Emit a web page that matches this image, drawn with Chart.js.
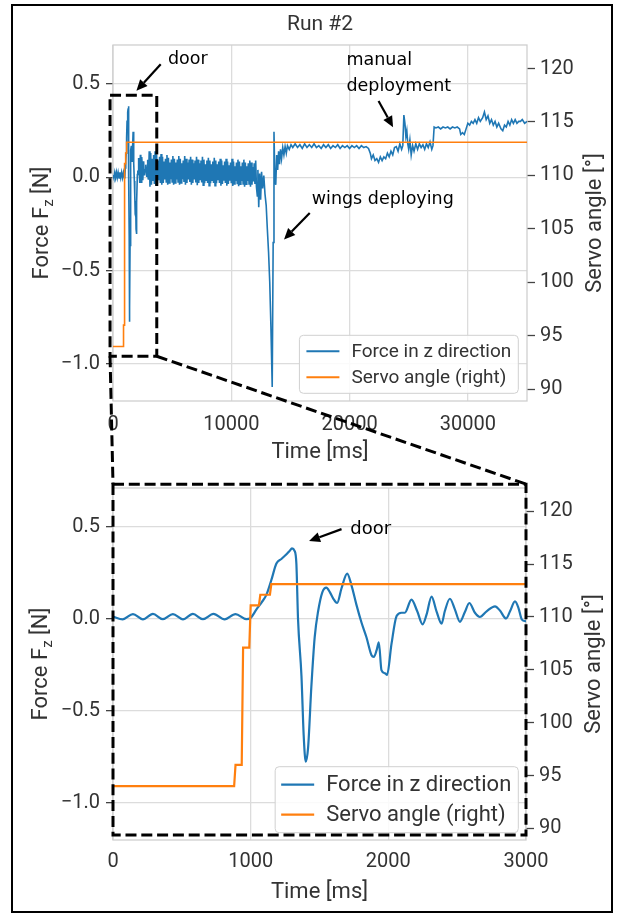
<!DOCTYPE html>
<html><head><meta charset="utf-8">
<script src="https://cdn.jsdelivr.net/npm/chart.js@4.4.1/dist/chart.umd.min.js"></script>
<style>
html,body{margin:0;padding:0;background:#fff;}
#fig{position:relative;width:617px;height:916px;background:#fff;overflow:hidden;}
#frame{position:absolute;left:11px;top:4px;width:598px;height:905px;border:2px solid #000;}
canvas{position:absolute;left:0;}
</style></head><body>
<div id="fig">
<div id="frame"></div>
<canvas id="top" width="617" height="470" style="top:0"></canvas>
<canvas id="zoom" width="617" height="446" style="top:470px"></canvas>
<canvas id="over" width="617" height="916" style="top:0"></canvas>
</div>
<script>
// ---------------- data ----------------
const titleText = 'Run #2';
const seriesNames = ['Force in z direction', 'Servo angle (right)'];

// detail of the door event (0–3000 ms), force in N
const zoomTime = [0,70,145,217,290,362,435,508,580,653,730,811,890,969,1000,1041,1080,1114,1150,1187,1223,1260,1284,1300,1318,1332,1344,1369,1385,1400,1417,1441,1465,1490,1521,1550,1575,1600,1628,1660,1701,1732,1768,1805,1841,1878,1895,1915,1931,1950,1975,1991,2023,2060,2096,2120,2168,2210,2249,2278,2314,2350,2387,2410,2447,2484,2520,2556,2588,2629,2665,2714,2775,2811,2855,2884,2920,2945,2969,2993,3000];
const zoomForce = [0.012,-0.003,0.026,-0.003,0.027,-0.002,0.026,-0.003,0.027,-0.002,0.027,-0.003,0.026,-0.002,0.005,0.05,0.09,0.13,0.21,0.30,0.325,0.35,0.37,0.382,0.37,0.30,0.0,-0.31,-0.63,-0.775,-0.70,-0.366,-0.10,0.041,0.145,0.169,0.145,0.11,0.086,0.166,0.245,0.183,0.077,-0.02,-0.10,-0.198,-0.207,-0.17,-0.127,-0.278,-0.295,-0.304,-0.136,0.015,0.033,0.033,0.104,0.041,-0.03,0.024,0.121,0.041,-0.026,0.041,0.109,0.05,-0.016,0.037,0.086,0.033,0.01,0.041,0.068,0.045,0.002,0.041,0.095,0.06,-0.003,-0.012,-0.01];

// vibrating phase after the door opened (3000–12125 ms): upper / lower swing per 125 ms bin
const bandTime = [3000,3125,3250,3375,3500,3625,3750,3875,4000,4125,4250,4375,4500,4625,4750,4875,5000,5125,5250,5375,5500,5625,5750,5875,6000,6125,6250,6375,6500,6625,6750,6875,7000,7125,7250,7375,7500,7625,7750,7875,8000,8125,8250,8375,8500,8625,8750,8875,9000,9125,9250,9375,9500,9625,9750,9875,10000,10125,10250,10375,10500,10625,10750,10875,11000,11125,11250,11375,11500,11625,11750,11875,12000];
const bandHi = [0.14,0.13,0.10,0.12,0.14,0.12,0.09,0.11,0.125,0.11,0.085,0.10,0.12,0.105,0.08,0.095,0.115,0.10,0.08,0.095,0.115,0.10,0.075,0.09,0.115,0.10,0.08,0.095,0.11,0.095,0.075,0.09,0.11,0.095,0.075,0.09,0.11,0.095,0.07,0.09,0.105,0.09,0.07,0.085,0.105,0.09,0.07,0.085,0.10,0.09,0.065,0.085,0.10,0.085,0.065,0.08,0.10,0.085,0.06,0.08,0.095,0.085,0.06,0.08,0.095,0.08,0.06,0.075,0.09,0.08,0.055,0.075,0.09];
const bandLo = [-0.05,-0.04,-0.02,-0.035,-0.045,-0.035,-0.015,-0.03,-0.04,-0.03,-0.012,-0.025,-0.04,-0.03,-0.01,-0.025,-0.04,-0.03,-0.012,-0.025,-0.04,-0.03,-0.01,-0.025,-0.04,-0.03,-0.012,-0.025,-0.04,-0.03,-0.012,-0.028,-0.042,-0.03,-0.012,-0.028,-0.042,-0.032,-0.015,-0.03,-0.045,-0.032,-0.015,-0.03,-0.045,-0.032,-0.015,-0.03,-0.045,-0.035,-0.018,-0.03,-0.045,-0.035,-0.018,-0.032,-0.047,-0.035,-0.02,-0.033,-0.048,-0.037,-0.02,-0.035,-0.05,-0.037,-0.02,-0.035,-0.05,-0.04,-0.022,-0.036,-0.05];

// rest of the run (12200–35000 ms), force in N
const runTime = [12200,12250,12320,12400,12480,12560,12650,12750,12850,12950,13050,13150,13250,13350,13460,13540,13610,13680,13760,13840,13920,14000,14080,14160,14250,14350,14450,14550,14650,14750,14900,15050,
15200,15400,15600,15800,16000,16200,16400,16600,16800,17000,17200,17400,17600,17800,18000,18200,18400,18600,18800,19000,19200,19400,19600,19800,20000,20200,20400,20600,20800,21000,21200,21400,21600,
21750,21850,22000,22150,22300,22450,22600,22750,22900,23050,23200,23350,23500,23650,23800,23950,24100,24250,24400,24500,
24590,24680,24760,24840,24920,25000,25100,25210,25330,25450,25600,25750,25900,26050,26200,26350,26500,26650,26800,26950,27050,
27150,27300,27500,27700,27900,28100,28300,28500,28700,28900,29100,29300,29400,29550,29700,29850,30000,30150,30300,30450,30600,30750,30900,31050,31250,31400,31550,31700,31850,32000,32150,32300,32450,32600,32800,32950,33100,33250,33400,33550,33700,33850,34000,34150,34300,34450,34600,34800,35000];
const runForce = [-0.10,0.04,-0.16,0.02,-0.12,0.03,-0.06,0.01,-0.09,-0.15,-0.28,-0.40,-0.56,-0.80,-1.125,-0.35,0.245,0.0,-0.04,0.12,0.04,0.14,0.07,0.15,0.10,0.16,0.12,0.165,0.13,0.17,0.15,0.175,
0.16,0.18,0.16,0.175,0.155,0.18,0.16,0.175,0.16,0.18,0.16,0.17,0.155,0.175,0.16,0.175,0.155,0.17,0.16,0.175,0.155,0.17,0.16,0.17,0.155,0.17,0.16,0.17,0.155,0.17,0.16,0.165,0.155,
0.13,0.10,0.12,0.09,0.10,0.08,0.11,0.09,0.11,0.10,0.13,0.11,0.14,0.12,0.16,0.165,0.14,0.18,0.15,0.17,
0.334,0.29,0.22,0.25,0.18,0.15,0.20,0.12,0.17,0.14,0.18,0.15,0.18,0.16,0.175,0.15,0.18,0.16,0.19,0.15,0.17,
0.27,0.265,0.27,0.26,0.27,0.265,0.27,0.26,0.27,0.265,0.27,0.26,0.23,0.24,0.23,0.26,0.29,0.28,0.30,0.29,0.31,0.29,0.32,0.30,0.32,0.35,0.31,0.33,0.29,0.31,0.28,0.30,0.27,0.29,0.26,0.25,0.28,0.27,0.30,0.28,0.31,0.29,0.31,0.29,0.30,0.30,0.31,0.29,0.30];

// servo angle (right axis), degrees
const servoTime  = [0,880,890,935,945,990,1000,1060,1070,1140,1150,35000];
const servoAngle = [94.0,94.0,96.0,96.0,107.1,107.1,111.1,111.1,112.1,112.1,113.1,113.1];

// ticks
const runTimeTicks  = [0,10000,20000,30000];
const zoomTimeTicks = [0,1000,2000,3000];
const forceTicks = [-1.0,-0.5,0.0,0.5];
const forceTickLabels = ['\u22121.0','\u22120.5','0.0','0.5'];
const servoTicks = [90,95,100,105,110,115,120];
const forceRange = [-1.2, 0.71];
const servoRange = [88.9, 122.2];

// annotations (data coordinates of each panel)
const topZoomBox  = {t:[-250,3700], f:[-0.96,0.44]};
const zoomFrameBox = {t:[0,3000], f:[-1.173,0.731]};

// ---------------- drawing ----------------
const BLUE = '#1f77b4', ORANGE = '#ff7f0e', TXT = '#333333', GRID = '#dcdcdc';
const FONT = 'Roboto';
const W = 617;

// full-run force series: door detail, vibrating band (upper/lower swing per bin), rest of run
const bandPts = [];
bandTime.forEach((t, i) => { bandPts.push({x: t + 62.5, y: bandHi[i]}); bandPts.push({x: t + 125, y: bandLo[i]}); });
const fullForcePts = zoomTime.map((t, i) => ({x: t, y: zoomForce[i]}))
  .concat(bandPts)
  .concat(runTime.map((t, i) => ({x: t, y: runForce[i]})));
const zoomForcePts = zoomTime.map((t, i) => ({x: t, y: zoomForce[i]}));

function drawRotated(ctx, parts, cx, cy) {
  let tw = 0;
  parts.forEach(p => { ctx.font = `${p.size}px ${FONT}`; p.w = ctx.measureText(p.text).width; tw += p.w; });
  ctx.save();
  ctx.translate(cx, cy);
  ctx.rotate(-Math.PI / 2);
  ctx.fillStyle = TXT; ctx.textAlign = 'left'; ctx.textBaseline = 'alphabetic';
  let x = -tw / 2;
  parts.forEach(p => { ctx.font = `${p.size}px ${FONT}`; ctx.fillText(p.text, x, p.base); x += p.w; });
  ctx.restore();
}

const decor = {
  id: 'decor',
  beforeDatasetsDraw(chart) {
    const {ctx, chartArea: a} = chart;
    ctx.save();
    ctx.strokeStyle = '#cfcfcf'; ctx.lineWidth = 1.3;
    ctx.strokeRect(a.left, a.top, a.right - a.left, a.bottom - a.top);
    ctx.restore();
  },
  afterDraw(chart) {
    const o = chart.options.plugins.decor;
    const {ctx, chartArea: a} = chart;
    const midY = (a.top + a.bottom) / 2;
    ctx.save();
    if (o.title) {
      ctx.font = `${o.titleSize}px ${FONT}`;
      ctx.fillStyle = TXT; ctx.textAlign = 'center'; ctx.textBaseline = 'middle';
      ctx.fillText(o.title, (a.left + a.right) / 2, o.titleY);
    }
    ctx.restore();
    const fs = o.axisTitleSize, ss = Math.round(fs * 0.7), base = fs * 0.36;
    drawRotated(ctx, [{text: 'Force F', size: fs, base: base}, {text: 'z', size: ss, base: base + fs * 0.22}, {text: ' [N]', size: fs, base: base}], o.yTitleX, midY);
    drawRotated(ctx, [{text: 'Servo angle [\u00b0]', size: fs, base: base}], o.y2TitleX, midY);

    const lg = o.legend;
    ctx.save();
    ctx.font = `${lg.size}px ${FONT}`;
    const ds = chart.data.datasets;
    const textW = Math.max(...ds.map(d => ctx.measureText(d.label).width));
    const bw = lg.padL + lg.sample + lg.gap + textW + lg.padR;
    const bh = 2 * lg.padV + ds.length * lg.rowH;
    const bx = a.right - lg.insetR - bw, by = a.bottom - lg.insetB - bh;
    ctx.beginPath();
    ctx.roundRect(bx, by, bw, bh, 4);
    ctx.fillStyle = 'rgba(255,255,255,0.85)'; ctx.fill();
    ctx.strokeStyle = '#d0d0d0'; ctx.lineWidth = 1; ctx.stroke();
    ds.forEach((d, i) => {
      const cy = by + lg.padV + lg.rowH * (i + 0.5);
      ctx.beginPath();
      ctx.moveTo(bx + lg.padL, cy); ctx.lineTo(bx + lg.padL + lg.sample, cy);
      ctx.strokeStyle = d.borderColor; ctx.lineWidth = lg.lw; ctx.stroke();
      ctx.fillStyle = TXT; ctx.textAlign = 'left'; ctx.textBaseline = 'middle';
      ctx.fillText(d.label, bx + lg.padL + lg.sample + lg.gap, cy + 1);
    });
    ctx.restore();
  }
};

function buildChart(id, cfg) {
  const canvas = document.getElementById(id);
  const H = canvas.height;
  const A = cfg.area;
  const servoPts = servoTime.map((t, i) => ({x: t, y: servoAngle[i]}));
  const tickFont = {family: FONT, size: 20};
  const titleFont = {family: FONT, size: 22};
  return new Chart(canvas, {
    type: 'line',
    data: {datasets: [
      {label: seriesNames[0], data: cfg.forcePts, yAxisID: 'y', borderColor: BLUE, borderWidth: cfg.lw,
       pointRadius: 0, order: 1, cubicInterpolationMode: cfg.smooth ? 'monotone' : 'default', tension: 0},
      {label: seriesNames[1], data: servoPts, yAxisID: 'y2', borderColor: ORANGE, borderWidth: cfg.lw,
       pointRadius: 0, order: 0, tension: 0}
    ]},
    options: {
      responsive: false, animation: false, devicePixelRatio: 1, events: [],
      layout: {padding: {top: A.top, left: 0, right: 0, bottom: 0}},
      plugins: {
        legend: {display: false}, tooltip: {enabled: false}, title: {display: false},
        decor: cfg.decor
      },
      scales: {
        x: {
          type: 'linear', min: 0, max: cfg.xMax,
          afterFit: s => { s.height = H - A.bottom; },
          afterBuildTicks: s => { s.ticks = cfg.xTicks.map(v => ({value: v})); },
          ticks: {font: tickFont, color: TXT, padding: cfg.xTickPad, maxRotation: 0, autoSkip: false,
                  callback: (v, i) => String(cfg.xTicks[i])},
          grid: {color: GRID, lineWidth: 1.3, drawTicks: false},
          border: {display: false},
          title: {display: true, text: 'Time [ms]', font: titleFont, color: TXT, padding: {top: 0, bottom: cfg.xTitlePad}}
        },
        y: {
          position: 'left', min: forceRange[0], max: forceRange[1],
          afterFit: s => { s.width = A.left; },
          afterBuildTicks: s => { s.ticks = forceTicks.map(v => ({value: v})); },
          ticks: {font: tickFont, color: TXT, padding: 6, autoSkip: false,
                  callback: (v, i) => forceTickLabels[i]},
          grid: {color: GRID, lineWidth: 1.3, tickColor: '#444', tickLength: 7, tickWidth: 1.3},
          border: {display: false}
        },
        y2: {
          position: 'right', min: servoRange[0], max: servoRange[1],
          afterFit: s => { s.width = W - A.right; },
          afterBuildTicks: s => { s.ticks = servoTicks.map(v => ({value: v})); },
          ticks: {font: tickFont, color: TXT, padding: 5, autoSkip: false,
                  callback: (v, i) => String(servoTicks[i])},
          grid: {drawOnChartArea: false, tickColor: '#444', tickLength: 8, tickWidth: 1.3},
          border: {display: false}
        }
      }
    },
    plugins: [decor]
  });
}

const topChart = buildChart('top', {
  area: {left: 113, right: 527, top: 45, bottom: 401},
  forcePts: fullForcePts,
  xMax: 35000, xTicks: runTimeTicks, lw: 1.6, smooth: false,
  xTickPad: 12, xTitlePad: 4,
  decor: {title: titleText, titleSize: 21, titleY: 25, axisTitleSize: 22, yTitleX: 40, y2TitleX: 593,
          legend: {size: 19, sample: 33, gap: 12, padL: 7, padR: 7, padV: 3, rowH: 26, lw: 2, insetR: 8.7, insetB: 7.7}}
});
const zoomChart = buildChart('zoom', {
  area: {left: 113, right: 526, top: 10, bottom: 370},
  forcePts: zoomForcePts,
  xMax: 3000, xTicks: zoomTimeTicks, lw: 2.2, smooth: true,
  xTickPad: 10, xTitlePad: 10,
  decor: {title: null, axisTitleSize: 22, yTitleX: 39, y2TitleX: 592,
          legend: {size: 22, sample: 33, gap: 12, padL: 6, padR: 7, padV: 3, rowH: 30, lw: 2.2, insetR: 7.7, insetB: 7.3}}
});

// ---------------- overlay annotations ----------------
const OFF = {top: 0, zoom: 470};
const CH = {top: topChart, zoom: zoomChart};
function P(key, t, f) {
  const c = CH[key];
  return [c.scales.x.getPixelForValue(t), c.scales.y.getPixelForValue(f) + OFF[key]];
}
const notes = [
  {panel: 'top', lines: ['door'], t: 4650, f: 0.6065, size: 17.5, tail: [4033, 0.6065], tip: [1979, 0.464]},
  {panel: 'top', lines: ['manual', 'deployment'], t: 19736, f: 0.601, size: 17.5, tail: [22450, 0.41], tip: [23677, 0.269]},
  {panel: 'top', lines: ['wings deploying'], t: 16802, f: -0.145, size: 17.5, tail: [16633, -0.191], tip: [14460, -0.333]},
  {panel: 'zoom', lines: ['door'], t: 1724, f: 0.4585, size: 18, tail: [1660, 0.487], tip: [1424, 0.422]}
];

const ov = document.getElementById('over').getContext('2d');
ov.save();
ov.strokeStyle = '#000'; ov.lineWidth = 3; ov.setLineDash([11, 4.8]);
const b1a = P('top', topZoomBox.t[0], topZoomBox.f[1]);
const b1b = P('top', topZoomBox.t[1], topZoomBox.f[0]);
ov.strokeRect(b1a[0], b1a[1], b1b[0] - b1a[0], b1b[1] - b1a[1]);
const b2a = P('zoom', zoomFrameBox.t[0], zoomFrameBox.f[1]);
const b2b = P('zoom', zoomFrameBox.t[1], zoomFrameBox.f[0]);
ov.strokeRect(b2a[0], b2a[1], b2b[0] - b2a[0], b2b[1] - b2a[1]);
ov.beginPath();
ov.moveTo(b1a[0], b1b[1]); ov.lineTo(b2a[0], b2a[1]);
ov.moveTo(b1b[0], b1b[1]); ov.lineTo(b2b[0], b2a[1]);
ov.stroke();
ov.restore();

notes.forEach(n => {
  const [tx, ty] = P(n.panel, n.t, n.f);
  ov.save();
  ov.font = `${n.size}px "DejaVu Sans"`;
  ov.fillStyle = '#000'; ov.textAlign = 'left'; ov.textBaseline = 'alphabetic';
  n.lines.forEach((l, i) => ov.fillText(l, tx, ty + i * 26));
  const [x0, y0] = P(n.panel, n.tail[0], n.tail[1]);
  const [x1, y1] = P(n.panel, n.tip[0], n.tip[1]);
  const ang = Math.atan2(y1 - y0, x1 - x0);
  const hl = 11, hw = 5;
  const bx = x1 - hl * Math.cos(ang), by = y1 - hl * Math.sin(ang);
  ov.strokeStyle = '#000'; ov.lineWidth = 2.2;
  ov.beginPath(); ov.moveTo(x0, y0); ov.lineTo(bx, by); ov.stroke();
  ov.beginPath();
  ov.moveTo(x1, y1);
  ov.lineTo(bx + hw * Math.sin(ang), by - hw * Math.cos(ang));
  ov.lineTo(bx - hw * Math.sin(ang), by + hw * Math.cos(ang));
  ov.closePath(); ov.fillStyle = '#000'; ov.fill();
  ov.restore();
});
</script>
</body></html>
